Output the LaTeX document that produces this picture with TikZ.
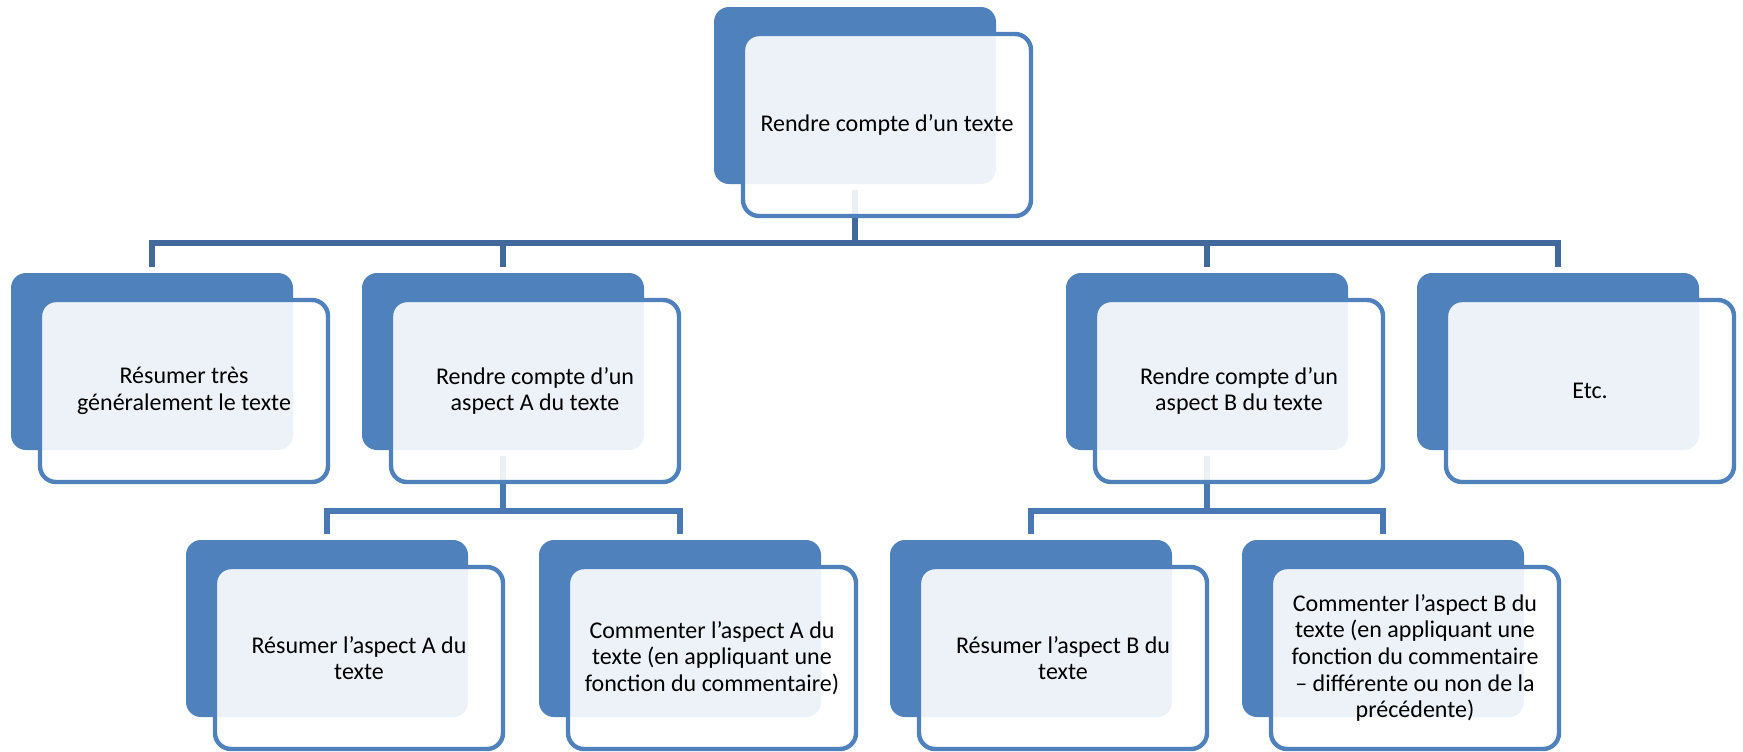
\documentclass[tikz,border=0pt]{standalone}
\usepackage{fontspec}
\setmainfont{Carlito}
\definecolor{accent}{HTML}{4F81BD}
\definecolor{linkA}{HTML}{41699B}
\definecolor{linkB}{HTML}{4A78B4}

\begin{document}
\begin{tikzpicture}[x=0.5pt, y=-0.5pt,
		back/.style={fill=accent, rounded corners=7.5pt, minimum width=141pt, minimum height=88.5pt, inner sep=0pt},
		front/.style={draw=accent, line width=2.2pt, fill=white, fill opacity=0.9, text opacity=1, rounded corners=8pt,
			minimum width=144pt, minimum height=91pt, inner sep=0pt, align=center, font=\fontsize{12}{13.3}\selectfont},
		link1/.style={draw=linkA, line width=2.6pt},
		link2/.style={draw=linkB, line width=2.6pt}]
		\useasboundingbox (0, 0) rectangle (1743, 751);

		% blue back plates
		\draw (855, 95.5) 		node[back] (compte-back) 	{};
		\draw (152, 361.5) 		node[back] (resume-back) 	{};
		\draw (503, 361.5) 		node[back] (aspA-back) 		{};
		\draw (1207, 361.5) 	node[back] (aspB-back) 		{};
		\draw (1558, 361.5) 	node[back] (etc-back) 		{};
		\draw (327, 628.5) 		node[back] (resA-back) 		{};
		\draw (680, 628.5) 		node[back] (comA-back) 		{};
		\draw (1031, 628.5) 	node[back] (resB-back) 		{};
		\draw (1383, 628.5) 	node[back] (comB-back) 		{};

		\coordinate (bus1) at (855, 243);
		\coordinate (busA) at (503, 511);
		\coordinate (busB) at (1207, 511);

		\draw[link1] ([yshift=-3pt]compte-back.south) -- (bus1);
		\draw[link1] ([yshift=3pt]resume-back.north) |- (bus1) -| ([yshift=3pt]etc-back.north);
		\draw[link1] ([yshift=3pt]aspA-back.north) -- (aspA-back.north |- bus1);
		\draw[link1] ([yshift=3pt]aspB-back.north) -- (aspB-back.north |- bus1);

		\draw[link2] ([yshift=-3pt]aspA-back.south) -- (busA);
		\draw[link2] ([yshift=3pt]resA-back.north) |- (busA) -| ([yshift=3pt]comA-back.north);
		\draw[link2] ([yshift=-3pt]aspB-back.south) -- (busB);
		\draw[link2] ([yshift=3pt]resB-back.north) |- (busB) -| ([yshift=3pt]comB-back.north);

		% text frames
		\draw (887, 125) 		node[front] (compte) 	{Rendre compte d’un texte};
		\draw (184, 391) 		node[front] (resume) 	{Résumer très\\généralement le texte};
		\draw (535, 391) 		node[front] (aspA) 		{Rendre compte d’un\\aspect A du texte};
		\draw (1239, 391) 		node[front] (aspB) 		{Rendre compte d’un\\aspect B du texte};
		\draw (1590, 391) 		node[front] (etc) 		{Etc.};
		\draw (359, 658) 		node[front] (resA) 		{Résumer l’aspect A du\\texte};
		\draw (712, 658) 		node[front] (comA) 		{Commenter l’aspect A du\\texte (en appliquant une\\fonction du commentaire)};
		\draw (1063, 658) 		node[front] (resB) 		{Résumer l’aspect B du\\texte};
		\draw (1415, 658) 		node[front] (comB) 		{Commenter l’aspect B du\\texte (en appliquant une\\fonction du commentaire\\– différente ou non de la\\précédente)};
	\end{tikzpicture}
\end{document}
